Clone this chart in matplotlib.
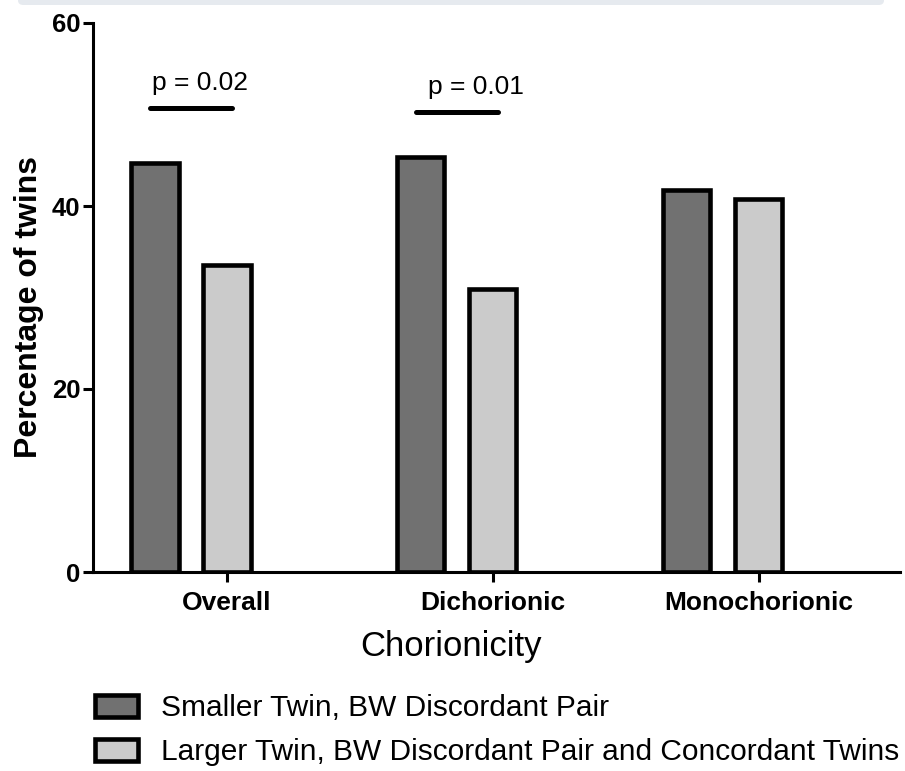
import matplotlib
matplotlib.use("Agg")
import matplotlib.pyplot as plt
from matplotlib.patches import FancyBboxPatch
import numpy as np

plt.rcParams['font.family'] = ['Liberation Sans', 'DejaVu Sans']

# data
groups = ['Overall', 'Dichorionic', 'Monochorionic']
smaller_twin = [44.7, 45.4, 41.8]
larger_twin = [33.6, 30.9, 40.8]
series_labels = ['Smaller Twin, BW Discordant Pair',
                 'Larger Twin, BW Discordant Pair and Concordant Twins']
sig_groups = [0, 1]
sig_heights = [50.7, 50.3]
sig_labels = ['p = 0.02', 'p = 0.01']

dark = '#717171'
light = '#cbcbcb'

fig = plt.figure(figsize=(9.05, 7.71), dpi=100)
ax = fig.add_axes([93 / 905, 1 - 572 / 771, 807 / 905, 549 / 771])

x = np.arange(len(groups))
offset = 0.271
width = 0.178
ax.bar(x - offset, smaller_twin, width, color=dark, edgecolor='black',
       linewidth=3.3, label=series_labels[0], zorder=2)
ax.bar(x, larger_twin, width, color=light, edgecolor='black',
       linewidth=3.3, label=series_labels[1], zorder=2)

# significance bars, label nudged a bit differently over each pair
text_shift = [-0.1, -0.062]
for g, h, lab, dx in zip(sig_groups, sig_heights, sig_labels, text_shift):
    ax.plot([g - 0.288, g + 0.02], [h, h], color='black', lw=3.6,
            solid_capstyle='round', zorder=3)
    ax.text(g + dx, h + 1.95, lab, ha='center', va='baseline', fontsize=19)

ax.set_xlim(-0.504, 2.532)
ax.set_ylim(0, 60)
ax.set_yticks([0, 20, 40, 60])
ax.set_xticks(x)
ax.set_xticklabels(groups, fontsize=19, fontweight='bold')
for lbl in ax.get_yticklabels():
    lbl.set_fontsize(18.5)
    lbl.set_fontweight('bold')

for s in ['top', 'right']:
    ax.spines[s].set_visible(False)
for s in ['left', 'bottom']:
    ax.spines[s].set_linewidth(2.2)
    ax.spines[s].set_zorder(4)
ax.tick_params(axis='both', direction='out', width=2.2, length=7, pad=2)
ax.tick_params(axis='x', pad=7)

ax.set_ylabel('Percentage of twins', fontsize=23, fontweight='bold')
ax.yaxis.set_label_coords(-0.061, 0.483)
ax.set_xlabel('Chorionicity', fontsize=25)
ax.xaxis.set_label_coords((451 - 93) / 807, -0.105)

ax.legend(loc='upper left', bbox_to_anchor=(95 / 905, 1 - 694 / 771),
          bbox_transform=fig.transFigure, frameon=False, fontsize=21.5,
          handlelength=1.45, handleheight=0.75, handletextpad=0.75,
          labelspacing=0.55, borderpad=0, borderaxespad=0)

# faint frame edge at the top of the picture
fig.patches.append(FancyBboxPatch((18 / 905, 1 - 5 / 771), 866 / 905, 0.05,
                                  boxstyle='round,pad=0,rounding_size=0.006',
                                  transform=fig.transFigure, facecolor='#e6eaef',
                                  edgecolor='none'))

fig.savefig('out.png', dpi=100)
